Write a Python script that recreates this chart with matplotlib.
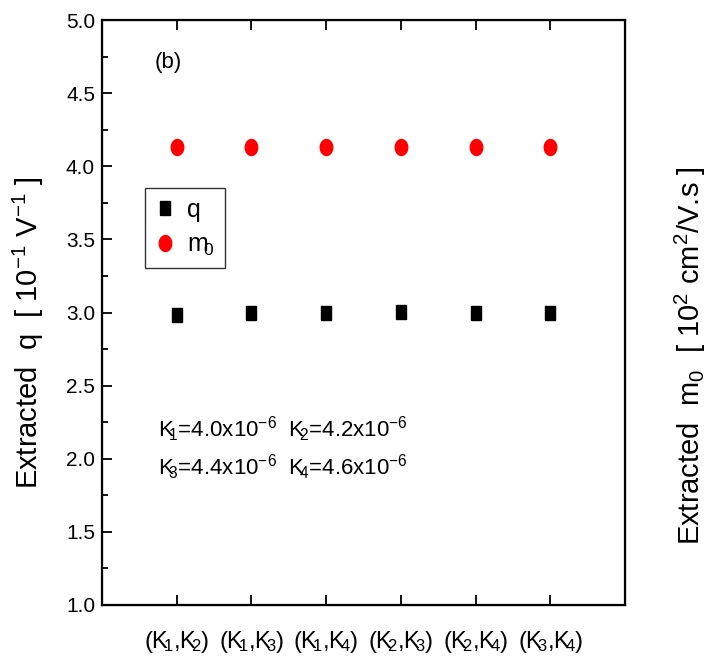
import matplotlib
matplotlib.use("Agg")
import numpy as np
import matplotlib.pyplot as plt
from matplotlib.ticker import MultipleLocator
from matplotlib.path import Path

plt.rcParams['font.family'] = ['Liberation Sans', 'DejaVu Sans']
plt.rcParams['mathtext.fontset'] = 'custom'
plt.rcParams['mathtext.rm'] = 'Liberation Sans'
plt.rcParams['mathtext.it'] = 'Liberation Sans'
plt.rcParams['mathtext.default'] = 'regular'

categories = [r"(K$_{\!\!1}$,K$_{\!\!2}$)", r"(K$_{\!\!1}$,K$_{\!\!3}$)",
              r"(K$_{\!\!1}$,K$_{\!\!4}$)", r"(K$_{\!\!2}$,K$_{\!\!3}$)",
              r"(K$_{\!\!2}$,K$_{\!\!4}$)", r"(K$_{\!\!3}$,K$_{\!\!4}$)"]
q_values = [2.985, 2.995, 3.0, 3.005, 3.0, 3.0]
m0_values = [4.13, 4.135, 4.13, 4.13, 4.13, 4.13]
yticks = [1.0, 1.5, 2.0, 2.5, 3.0, 3.5, 4.0, 4.5, 5.0]

fig = plt.figure(figsize=(7.12, 6.64), dpi=100)
ax = fig.add_axes([102/712, 1 - 605/664, 523/712, 585/664])
x = list(range(1, len(categories) + 1))

rect = [(-0.34, -0.5), (0.34, -0.5), (0.34, 0.5), (-0.34, 0.5), (-0.34, -0.5)]
t = np.linspace(0, 2 * np.pi, 40)
ell = Path(np.column_stack([0.39 * np.cos(t), 0.5 * np.sin(t)]), closed=True)
ax.plot(x, q_values, linestyle='none', marker=rect, markersize=10.5,
        color='black', label='q')
ax.plot(x, m0_values, linestyle='none', marker=ell, markersize=11.5,
        color='red', label=r'm$_{\!\!0}$')

ax.set_xlim(0, 7)
ax.set_ylim(1.0, 5.0)
ax.set_xticks(x)
ax.set_xticklabels(categories, fontsize=17)
ax.set_yticks(yticks)
ax.set_yticklabels([f"{v:.1f}" for v in yticks], fontsize=15)
ax.yaxis.set_minor_locator(MultipleLocator(0.25))
ax.tick_params(axis='both', which='both', direction='in', top=True,
               right=True, labelright=True, width=1.3)
ax.tick_params(axis='both', which='major', length=7, pad=5)
ax.tick_params(axis='both', which='minor', length=4)
ax.tick_params(axis='x', pad=17)
for sp in ax.spines.values():
    sp.set_linewidth(1.6)

ax.set_ylabel("Extracted  q  [ 10$^{-1}$ V$^{-1}$ ]", fontsize=21)
ax.yaxis.set_label_coords(-0.108, 0.465)
ax2 = ax.twinx()
ax2.set_ylim(1.0, 5.0)
ax2.set_yticks([])
ax2.set_ylabel(r"Extracted  m$_{0}$  [ 10$^2$ cm$^2$/V.s ]", fontsize=21)
ax2.yaxis.set_label_coords(1.092, 0.427)

ax.text(0.70, 4.71, "(b)", fontsize=16, va='center')
ax.text(0.75, 2.2, r"K$_{\!\!1}$=4.0x10$^{-6}$  K$_{\!\!2}$=4.2x10$^{-6}$",
        fontsize=16, va='center')
ax.text(0.75, 1.94, r"K$_{\!\!3}$=4.4x10$^{-6}$  K$_{\!\!4}$=4.6x10$^{-6}$",
        fontsize=16, va='center')

leg = ax.legend(loc='upper left', bbox_to_anchor=(0.082, 0.713),
                fontsize=18, frameon=True, fancybox=False, borderpad=0.4,
                handletextpad=0.5, handlelength=0.8, labelspacing=0.45,
                borderaxespad=0)
leg.get_frame().set_edgecolor('black')
leg.get_frame().set_linewidth(1.0)

fig.savefig("out.png", dpi=100)
